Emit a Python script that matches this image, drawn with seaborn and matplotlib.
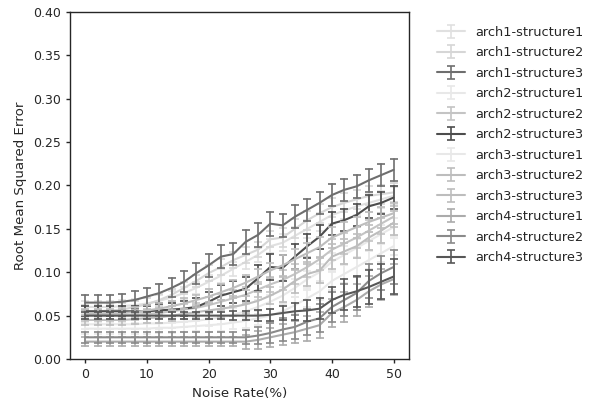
import matplotlib
matplotlib.use("Agg")
import matplotlib.pyplot as plt
from matplotlib.container import ErrorbarContainer
from matplotlib.lines import Line2D
import pandas as pd
import seaborn as sns

# noise levels (%)
noise = list(range(0, 52, 2))

names = [
    "arch1-structure1", "arch1-structure2", "arch1-structure3",
    "arch2-structure1", "arch2-structure2", "arch2-structure3",
    "arch3-structure1", "arch3-structure2", "arch3-structure3",
    "arch4-structure1", "arch4-structure2", "arch4-structure3",
]
colors = [
    "#e0e0e0", "#d6d6d6", "#6e6e6e",
    "#e8e8e8", "#c4c4c4", "#4d4d4d",
    "#e8e8e8", "#bdbdbd", "#bdbdbd",
    "#ababab", "#8a8a8a", "#575757",
]

# mean RMSE per noise level
a1s1 = [0.060, 0.060, 0.060, 0.061, 0.062, 0.064, 0.067, 0.071, 0.076, 0.082, 0.089, 0.096, 0.104,
        0.112, 0.120, 0.130, 0.134, 0.142, 0.150, 0.158, 0.166, 0.171, 0.176, 0.180, 0.184, 0.188]
a1s2 = [0.055, 0.055, 0.056, 0.057, 0.060, 0.063, 0.068, 0.074, 0.082, 0.090, 0.099, 0.106, 0.114,
        0.120, 0.126, 0.138, 0.140, 0.150, 0.160, 0.168, 0.175, 0.180, 0.184, 0.188, 0.190, 0.192]
a1s3 = [0.065, 0.065, 0.065, 0.066, 0.068, 0.072, 0.076, 0.082, 0.089, 0.099, 0.108, 0.118, 0.121,
        0.135, 0.143, 0.156, 0.154, 0.164, 0.172, 0.180, 0.189, 0.195, 0.199, 0.206, 0.212, 0.218]
a2s1 = [0.040, 0.040, 0.040, 0.040, 0.040, 0.041, 0.041, 0.042, 0.043, 0.044, 0.046, 0.048, 0.051,
        0.055, 0.060, 0.066, 0.073, 0.082, 0.092, 0.100, 0.112, 0.120, 0.128, 0.136, 0.144, 0.152]
a2s2 = [0.050, 0.050, 0.050, 0.050, 0.051, 0.052, 0.053, 0.055, 0.057, 0.059, 0.062, 0.066, 0.070,
        0.074, 0.080, 0.086, 0.091, 0.098, 0.106, 0.115, 0.126, 0.133, 0.140, 0.148, 0.156, 0.164]
a2s3 = [0.055, 0.055, 0.055, 0.055, 0.055, 0.055, 0.056, 0.057, 0.058, 0.060, 0.066, 0.073, 0.077,
        0.081, 0.093, 0.106, 0.105, 0.118, 0.130, 0.141, 0.156, 0.160, 0.166, 0.176, 0.180, 0.186]
a3s1 = [0.035, 0.035, 0.035, 0.035, 0.035, 0.035, 0.036, 0.036, 0.037, 0.038, 0.039, 0.040, 0.042,
        0.044, 0.047, 0.050, 0.055, 0.062, 0.070, 0.078, 0.090, 0.098, 0.106, 0.114, 0.122, 0.130]
a3s2 = [0.045, 0.045, 0.045, 0.045, 0.046, 0.047, 0.048, 0.050, 0.052, 0.054, 0.056, 0.058, 0.060,
        0.063, 0.067, 0.073, 0.080, 0.090, 0.098, 0.102, 0.118, 0.124, 0.130, 0.140, 0.148, 0.157]
a3s3 = [0.052, 0.052, 0.052, 0.053, 0.054, 0.056, 0.058, 0.061, 0.064, 0.068, 0.072, 0.077, 0.082,
        0.088, 0.095, 0.102, 0.108, 0.115, 0.122, 0.129, 0.140, 0.146, 0.152, 0.158, 0.163, 0.168]
a4s1 = [0.020, 0.020, 0.020, 0.020, 0.020, 0.020, 0.020, 0.020, 0.020, 0.020, 0.020, 0.020, 0.020,
        0.020, 0.022, 0.025, 0.028, 0.031, 0.035, 0.039, 0.053, 0.060, 0.068, 0.078, 0.086, 0.092]
a4s2 = [0.025, 0.025, 0.025, 0.025, 0.025, 0.025, 0.025, 0.025, 0.025, 0.025, 0.025, 0.025, 0.025,
        0.025, 0.027, 0.030, 0.034, 0.037, 0.043, 0.047, 0.060, 0.068, 0.076, 0.090, 0.099, 0.106]
a4s3 = [0.050, 0.050, 0.050, 0.050, 0.050, 0.050, 0.050, 0.050, 0.050, 0.050, 0.050, 0.050, 0.050,
        0.050, 0.050, 0.051, 0.053, 0.055, 0.056, 0.058, 0.068, 0.074, 0.078, 0.083, 0.089, 0.095]

# half-width of the error bars
e_a1s1 = [0.007] * 10 + [0.008] * 6 + [0.010] * 10
e_a1s2 = [0.007] * 10 + [0.009] * 6 + [0.011] * 10
e_a1s3 = [0.009, 0.009, 0.009, 0.009, 0.010, 0.010, 0.011, 0.011, 0.012, 0.012, 0.013, 0.013, 0.013,
          0.014, 0.014, 0.014, 0.013, 0.013, 0.013, 0.013, 0.013, 0.013, 0.013, 0.013, 0.013, 0.013]
e_a2s1 = [0.006] * 10 + [0.008] * 6 + [0.010] * 10
e_a2s2 = [0.006] * 10 + [0.009] * 6 + [0.012] * 10
e_a2s3 = [0.006, 0.006, 0.006, 0.006, 0.006, 0.006, 0.007, 0.008, 0.009, 0.010, 0.011, 0.012, 0.013,
          0.014, 0.015, 0.015, 0.015, 0.014, 0.014, 0.014, 0.013, 0.013, 0.013, 0.013, 0.013, 0.013]
e_a3s1 = [0.006] * 10 + [0.008] * 6 + [0.010] * 10
e_a3s2 = [0.006] * 10 + [0.010] * 6 + [0.014] * 10
e_a3s3 = [0.006] * 10 + [0.009] * 6 + [0.012] * 10
e_a4s1 = [0.005] * 13 + [0.008, 0.010, 0.011, 0.012, 0.013, 0.014, 0.015, 0.016, 0.017, 0.018,
                         0.018, 0.018, 0.018]
e_a4s2 = [0.006] * 13 + [0.008, 0.010, 0.012, 0.013, 0.014, 0.015, 0.016, 0.017, 0.018, 0.019,
                         0.020, 0.020, 0.020]
e_a4s3 = [0.004] * 12 + [0.005, 0.005, 0.006, 0.007, 0.008, 0.010, 0.012, 0.012, 0.015, 0.018,
                         0.018, 0.020, 0.020, 0.020]

means = [a1s1, a1s2, a1s3, a2s1, a2s2, a2s3, a3s1, a3s2, a3s3, a4s1, a4s2, a4s3]
errs = [e_a1s1, e_a1s2, e_a1s3, e_a2s1, e_a2s2, e_a2s3, e_a3s1, e_a3s2, e_a3s3,
        e_a4s1, e_a4s2, e_a4s3]

# long table: lower and upper bound of each point, so the mean is the centre
rows = []
for name, m, e in zip(names, means, errs):
    for x, v, d in zip(noise, m, e):
        rows.append((name, x, v - d))
        rows.append((name, x, v + d))
df = pd.DataFrame(rows, columns=["model", "noise", "rmse"])

sns.set_theme(context="paper", style="ticks")
plt.rcParams["font.family"] = ["DejaVu Sans"]
plt.rcParams["xtick.major.size"] = 3.0
plt.rcParams["ytick.major.size"] = 3.0
plt.rcParams["xtick.labelsize"] = 9.0
plt.rcParams["ytick.labelsize"] = 9.0

fig = plt.figure(figsize=(6.02, 4.05), dpi=100)
ax = fig.add_axes([0.1163, 0.1136, 0.5630, 0.8568])

sns.lineplot(
    data=df, x="noise", y="rmse", hue="model", hue_order=names,
    palette=colors, estimator="mean",
    errorbar=lambda v: (v.min(), v.max()),
    err_style="bars",
    err_kws=dict(capsize=3, elinewidth=1.2, capthick=1.2),
    linewidth=1.5, legend=False, ax=ax,
)

ax.set_ylim(0, 0.40)
ax.set_yticks([0.00, 0.05, 0.10, 0.15, 0.20, 0.25, 0.30, 0.35, 0.40])
ax.set_xticks([0, 10, 20, 30, 40, 50])
ax.set_xlabel("Noise Rate(%)")
ax.set_ylabel("Root Mean Squared Error")

# legend entries styled like errorbar markers
handles = []
for name, c, cont in zip(names, colors, ax.containers):
    proxy = Line2D([], [], color=c, linewidth=1.5)
    handles.append(ErrorbarContainer((proxy, cont.lines[1], cont.lines[2]),
                                     has_xerr=False, has_yerr=True, label=name))
fig.legend(handles=handles, labels=names, loc="upper left",
           bbox_to_anchor=(0.7067, 0.965), bbox_transform=fig.transFigure,
           frameon=False, fontsize=9.3, labelspacing=0.58,
           handlelength=2.2, handletextpad=0.75)

fig.savefig("out.png", dpi=100)
